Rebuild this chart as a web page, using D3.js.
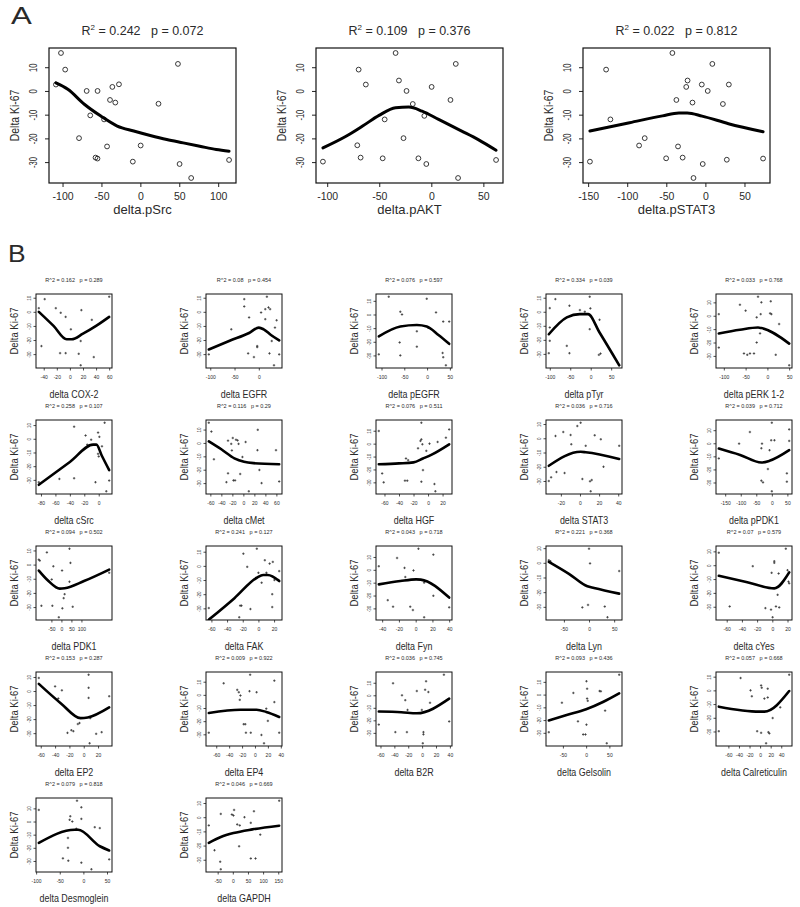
<!DOCTYPE html>
<html><head><meta charset="utf-8">
<script src="https://cdn.jsdelivr.net/npm/d3@7"></script>
<style>
body{margin:0;background:#fff}
svg{display:block}
text{font-family:"Liberation Sans",Arial,sans-serif;fill:#2a2a2a;white-space:pre}
</style>
</head><body>
<svg id="chart" width="800" height="907"></svg>
<script>
// ---------------- DATA ----------------
const yTickValues = [10, 0, -10, -20, -30];

// Panel A
const aLabels = ["delta.pSrc", "delta.pAKT", "delta.pSTAT3"];
const aR2 = ["0.242", "0.109", "0.022"];
const aP = ["0.072", "0.376", "0.812"];
const aXTicks = [[-100, -50, 0, 50, 100], [-100, -50, 0, 50], [-150, -100, -50, 0, 50]];

const ptsA_pSrc = [[-102,16],[-96.6,9],[-108.5,2.7],[-69,0],[-55,0],[-36,1.7],[-27.5,2.8],[-39,-3.8],[-32.2,-4.9],[-64.4,-10.3],[-46.6,-12],[-78.8,-19.9],[-42.8,-23.4],[-57.6,-28.1],[-55.1,-28.5],[-9.7,-29.8],[0.4,-23],[23.3,-5.4],[48.3,11.4],[50.4,-30.8],[65.3,-36.7],[114,-29.1]];
const fitA_pSrc = [[-108.5,3.4],[-93.2,0.7],[-72,-5.6],[-50.8,-10.6],[-29.7,-14.8],[-8.5,-16.9],[12.7,-18.8],[33.9,-20.5],[55.1,-21.9],[76.3,-23.3],[97.5,-24.7],[114,-25.4]];

const ptsA_pAKT = [[-34.3,16],[23.5,11.4],[-69.8,9],[-31.1,4.4],[-62.9,2.7],[-23.8,0],[0.3,1.7],[18.4,-3.8],[-17.8,-5.5],[-6.7,-10.5],[-44.8,-12],[-26.7,-19.9],[-71.1,-22.9],[-67.9,-28.1],[-46.7,-28.4],[-12.4,-28.4],[-4.8,-30.8],[-104.1,-29.8],[25.7,-36.7],[62.2,-29.1]];
const fitA_pAKT = [[-104.1,-24],[-81.9,-19.1],[-66,-14.8],[-50.2,-10.3],[-34.3,-7.1],[-21.6,-6.8],[-8.9,-8.5],[7,-12],[29.2,-16.9],[45.1,-20.5],[62.2,-25]];

const ptsA_pSTAT3 = [[-42.2,16],[8.9,11.4],[-127,9],[-22.8,4.4],[-24.5,1.7],[-4.6,2.7],[30,2.7],[3,0],[-37.1,-3.8],[-16.5,-4.9],[22.4,-5.5],[-121.5,-12],[-77.6,-19.9],[-84.8,-23],[-35,-23.4],[-50.2,-28.4],[-29.1,-28.1],[27.4,-29],[-3.4,-30.8],[-147.7,-29.8],[-15.2,-36.7],[73.8,-28.5]];
const fitA_pSTAT3 = [[-147.7,-16.9],[-97,-13.4],[-54.9,-10.5],[-33.8,-9.3],[-23.2,-9.3],[-4.2,-10.6],[29.5,-13.8],[73.8,-17.2]];

// Panel B
const bLabels = ["delta COX-2","delta EGFR","delta pEGFR","delta pTyr","delta pERK 1-2",
  "delta cSrc","delta cMet","delta HGF","delta STAT3","delta pPDK1",
  "delta PDK1","delta FAK","delta Fyn","delta Lyn","delta cYes",
  "delta EP2","delta EP4","delta B2R","delta Gelsolin","delta Calreticulin",
  "delta Desmoglein","delta GAPDH"];
const bR2 = ["0.162","0.08","0.076","0.334","0.033","0.258","0.116","0.076","0.036","0.039",
  "0.094","0.241","0.043","0.221","0.07","0.153","0.009","0.036","0.093","0.057","0.079","0.046"];
const bP = ["0.289","0.454","0.597","0.039","0.768","0.107","0.29","0.511","0.716","0.712",
  "0.502","0.127","0.718","0.368","0.579","0.287","0.922","0.745","0.436","0.668","0.818","0.669"];
const bXTicks = [[-40,-20,0,20,40,60],[-100,-50,0,50],[-100,-50,0,50],[-100,-50,0,50],[-100,-50,0,50],
  [-80,-60,-40,-20,0],[-60,-40,-20,0,20,40,60],[-60,-40,-20,0,20],[-20,0,20,40],[-150,-100,-50,0,50],
  [-50,0,50,100],[-60,-40,-20,0,20],[-40,-20,0,20,40],[-50,0,50],[-60,-40,-20,0,20],
  [-60,-40,-20,0,20],[-60,-40,-20,0,20,40],[-60,-40,-20,0,20,40],[-50,0,50],[-60,-40,-20,0,20,40],
  [-100,-50,0,50],[-50,0,50,100,150]];

const ptsCOX2 = [[-38.5,9],[-47.5,2.6],[-21.5,2.6],[-14,-0.7],[-6.5,-3.6],[17.5,1.2],[1.5,-12.4],[33.5,-5.7],[60,10.7],[-43.5,-24.3],[-15,-29.3],[-6.5,-29.3],[13.5,-29.8],[16.5,-20.7],[36.5,-32.1],[16.5,-37.9]];
const fitCOX2 = [[-47.5,0],[-25,-10],[-5,-19.5],[2.5,-19.5],[20,-15.5],[40,-10],[60,-3.6]];
const ptsEGFR = [[-103,-30.2],[-56.7,-12.4],[-30,9],[-30,3.8],[-20,-4],[16.7,10.7],[4.7,-0.5],[13.3,1.9],[20,3.1],[23.3,1.9],[13.3,-5.2],[36.7,-6],[33.3,-11.2],[26.7,-20.7],[-3.3,-24.3],[-3.3,-25],[-22,-29.5],[-10,-32.1],[22,-29.5],[42,-30.2],[31.3,-37.9]];
const fitEGFR = [[-103,-26.7],[-60,-20.5],[-20,-15],[0,-11.2],[10,-12.4],[25,-16.4],[42,-20.2]];
const ptsPEGFR = [[-84.1,13],[-58.7,2],[-55,0],[-60.2,-20.5],[-58.7,-30],[-105.9,-29.2],[-0.7,11.5],[19.6,1.5],[-22.4,-12.3],[-22.4,-23.6],[35.4,-5.2],[48.5,-5.2],[34.1,-28.2],[35.4,-31.3],[41.3,-37.2],[2.8,-9.8]];
const fitPEGFR = [[-105.9,-16],[-58.7,-8.8],[-22.4,-7.7],[-0.7,-8.8],[25,-15],[48.5,-21.5]];
const ptsPTyr = [[-86.4,9],[-100,2.6],[-100,-11.2],[-100,-20.7],[-102.4,-29.5],[-52,4.3],[-26.4,1.2],[-14.4,0],[-2.4,10.7],[-0.8,2.4],[-2.4,-12.4],[21.6,-5.7],[20,-30.7],[24,-29.8],[-58.4,-24.3],[-52,-29.5],[69.6,-38.1]];
const fitPTyr = [[-102.4,-16],[-58.4,-4],[-26.4,-1.7],[-6.4,-1.7],[21.6,-14.8],[69.6,-38.1]];
const ptsPERK = [[-111.5,1.2],[-111.5,-23.8],[-63,8.2],[-50,3.8],[-21.5,14.2],[-13.8,10],[-24.6,-1.2],[-15.4,1.2],[-16.9,-13.2],[-24.6,-20],[7.7,10.8],[6.2,1.8],[9.2,1.2],[26.9,-6.2],[-53.8,-28.2],[-46.2,-29.2],[-40,-28.2],[-30.8,-28.2],[19.2,-29.2],[50,-37]];
const fitPERK = [[-111.5,-13.2],[-63,-10.5],[-21.5,-8.8],[-13.8,-9.2],[50,-20.8]];
const ptsCSrc = [[-54.5,-29.3],[-34.1,8.8],[-34.1,-28.8],[-18.2,2.4],[-10.5,-0.7],[-15.9,-4.3],[-4.5,-31.7],[-0.9,4.5],[0.9,1.4],[4.5,-5.5],[-0.9,-11],[0,-12.9],[8.2,11.7],[14.5,-30.5],[10.5,-38.3],[-83,-31.7]];
const fitCSrc = [[-83,-33.6],[-40,-17],[-7.7,-4.3],[-3.2,-4.3],[4.5,-12.6],[14.5,-22.9]];
const ptsCMet = [[-62.8,15.1],[-58.1,8.5],[-53.5,-12.2],[-27.9,1.7],[-19.2,3.7],[-22.1,-0.7],[-20.9,-5.6],[-13.4,2.4],[-10.5,1.9],[-8.7,-0.7],[4.1,0.7],[-1.7,-10.5],[-27.9,-22.7],[-30.8,-29.3],[-18,-28],[-15.1,-28],[-5.8,-23.2],[9.9,-36.1],[26.2,9.8],[25.6,-5.4],[29.1,-20.2],[33.1,-30],[59.3,-5.4],[65.1,-28.8]];
const fitCMet = [[-62.8,1.2],[-39.5,-4.9],[-16.3,-11.5],[1.2,-14.1],[18.6,-15.1],[65.1,-15.9]];
const ptsHGF = [[-67.8,9.8],[-63.2,-23.1],[-61.1,-30],[-30.4,-11.5],[-27.4,-12.8],[-31.8,-28.7],[-28.6,-28.7],[-9.2,16.2],[-13.8,-3.6],[-10.5,2.1],[-9.2,3.3],[-7.8,-0.5],[2,0],[-2.4,-5.6],[13.2,1.3],[24.6,4.6],[29.1,11],[-7,-20.5],[-9.2,-29.5],[8.8,-31.3],[10.1,-36.9]];
const fitHGF = [[-67.8,-16],[-40,-15.3],[-20,-14.5],[-7,-11.5],[5,-8.5],[29.1,-0.5]];
const ptsSTAT3 = [[-32.6,-30],[-25.6,1.6],[-24.6,-23.7],[-17.5,4.4],[-16.1,-24.4],[-9.8,2.3],[-9.1,-4.2],[-2.8,8.6],[0.7,10.9],[2.5,-28.6],[6,-5.3],[10.5,-30.2],[12.3,-29.3],[11.2,-37.2],[15.4,2.1],[21.8,-0.7],[24.6,-20],[41,-5.3],[-30.2,-27.4]];
const fitSTAT3 = [[-32.6,-19.3],[0.7,-9.5],[6,-9.8],[41,-14.5]];
const ptsPPDK1 = [[-170.5,-11.6],[-105.3,-0.3],[-70.5,8.6],[-31.6,-0.3],[-33.7,-3.8],[-12.6,-19.7],[-33.7,-28.6],[-28.4,-29.9],[0,15.7],[-7.4,-5.3],[-2.1,2.3],[8.4,2.3],[0,-36.7],[55.8,10.6],[55.8,1.8],[48.4,-23],[48.4,-29.4]];
const fitPPDK1 = [[-170.5,-4],[-102,-8.9],[-33.7,-14.7],[-7.4,-13.4],[55.8,-5.3]];
const ptsPDK1 = [[-112.9,3.5],[-108,2.8],[-72.6,8.6],[-40.3,-1.2],[-48.4,-10.5],[-100,-29.1],[-45.2,-29.1],[3.2,-4.2],[4.8,-30.9],[11.3,-23.7],[16.1,-20.9],[40.3,11.2],[45.2,1.2],[40.3,-12.1],[56.5,-29.8],[-12.9,-37.2],[238.7,-5.8]];
const fitPDK1 = [[-112.9,-4.2],[-64.5,-11.6],[-8.1,-17],[16.1,-16.7],[112.9,-11.6],[238.7,-3.5]];
const ptsFAK = [[-63.3,-29.8],[-23.3,-28.1],[-21.6,-28.1],[-24.5,-36.3],[-10.2,-30.5],[-19.2,8.6],[-14.3,-0.7],[-2,12.1],[0,-4.9],[10.2,-4.9],[4.1,-11.9],[8.2,4],[14.3,1.6],[18.4,2.8],[26.5,-3.7],[17.6,-20],[17.6,-29.1],[20.4,-10],[25.7,-10]];
const fitFAK = [[-63.3,-38],[-30.6,-22.8],[-2,-8.4],[6.1,-6.5],[12,-6.5],[26.5,-10.7]];
const ptsFyn = [[-44,2.8],[-33.3,-23.6],[-27,-28.7],[-22.2,9.2],[-13.3,1.5],[-12.4,-5.6],[-2.6,-0.5],[-6.5,-28.7],[-3.3,-31.3],[3.3,16.4],[10.1,-10],[21.1,11.8],[21.1,-20.2],[10.1,-36.9],[40,-29.2]];
const fitFyn = [[-44,-11.3],[-18.3,-8.7],[0.6,-7.4],[6,-7.6],[40,-21.6]];
const ptsLyn = [[-80,1.8],[-76.7,1.1],[0,9.6],[2,-0.4],[-13.3,-30.4],[-2,-28.7],[31.3,-29.8],[36.7,-37.1],[60,-5.6]];
const fitLyn = [[-80,0.7],[-40,-7.5],[-3.3,-16],[10,-17.1],[60,-21]];
const ptsCYes = [[-70.4,9],[-56.1,-29.8],[-25.7,-0.7],[-9.1,-31],[-1.7,-32.1],[0.4,-37.6],[2.6,2.9],[2.6,1.7],[-0.9,-5.5],[8.3,-6],[7,-21.4],[4.8,-29.8],[9.1,-30.5],[17.8,11.9],[20,-3.6],[21.3,-11.9],[22.2,-13.1]];
const fitCYes = [[-70.4,-7.6],[-34.3,-12.1],[2.6,-16.7],[22.2,-5.2]];
const ptsEP2 = [[-62.7,9.3],[-40,3.3],[-30.5,0.5],[-35.5,-5.3],[-22.7,-29.8],[-17.3,-27.9],[-14.5,-28.6],[-8.2,-23.5],[-5.9,-22.8],[6.8,11.6],[6.8,2.3],[6.8,-4.9],[9.1,-19.3],[8.2,-37.2],[17.3,-30.5],[25,-29.3],[35.5,-3.7]];
const fitEP2 = [[-62.7,5.1],[-31.8,-8.8],[-4.5,-19.3],[5.5,-18.8],[35.5,-11.6]];
const ptsEP4 = [[-71.5,-28.8],[-48.5,8.8],[-27.5,3.8],[-25,2],[-22.5,-0.5],[-23.5,-3.8],[-17.5,-22.3],[-15,-22.3],[-14,-28.8],[-6.5,-28.8],[-7.5,15.3],[-8.5,2.8],[2.5,2],[10,-30.5],[14,-36.8],[17.5,-10.5],[20,-19.8],[30,10.8],[30,-5.5],[37.5,-28.8]];
const fitEP4 = [[-71.5,-13.8],[-22.5,-11.3],[2.5,-11.3],[17.5,-13],[37.5,-16.8]];
const ptsB2R = [[-62.4,-23.4],[-41.9,9.6],[-38.6,-29.4],[-29,0],[-24.3,-3.9],[-21.9,-29.4],[-21,-11.7],[-7.6,3.4],[1.9,-29.4],[1.9,-31.2],[1,-38.3],[-0.4,-11.7],[5.7,11.2],[4.3,4.4],[9,2.6],[11.4,-6],[31.4,16.4],[39,-20.9]];
const fitB2R = [[-62.4,-13],[-30,-13.5],[-7.6,-14.4],[39,-2.7]];
const ptsGelsolin = [[-80.3,-29.5],[-52.1,-6.4],[-27.5,1.3],[-17.6,-21],[0.7,10.5],[2.1,4.6],[2.1,-3.1],[3.5,-4.9],[0.7,-23.6],[-6.3,-31.3],[-1.4,-31.3],[28.9,2.8],[31.7,2.6],[40.8,-12.6],[44.4,-38.2],[71.1,15.6]];
const fitGelsolin = [[-80.3,-20.3],[-40.1,-15.9],[0,-11.5],[37.3,-5.6],[71.1,1]];
const ptsCalret = [[-78.1,-29.8],[-36.9,9],[-18.1,0],[-15.6,-4.3],[-5.6,-29.8],[1.9,-31],[1.9,3.6],[3.1,1.9],[8.1,-6],[14.4,1.2],[14.4,-5.2],[15.6,-30.5],[17.5,-31.4],[11.3,-38.6],[23.8,-20.2],[38.1,-12.4],[55,11.4]];
const fitCalret = [[-78.1,-11.9],[-1.3,-15.5],[8.1,-15.5],[55,-0.5]];
const ptsDesmo = [[-94.3,8.8],[-43.3,-28],[-32.6,-12.5],[-32.6,-20],[-29.1,1.3],[-27.7,4],[-23.4,0],[-31.9,-29.8],[-14.9,-5.5],[-13.5,15.8],[-4.3,10.8],[-4.3,2],[-4.3,-31.3],[17,-36.3],[24.1,-4.3],[34.8,-5],[54.6,-28.8]];
const fitDesmo = [[-94.3,-16.3],[-18.4,-6.3],[-11.3,-6.3],[34.8,-18.8],[54.6,-22]];
const ptsGAPDH = [[-79.2,-5.8],[-60.4,-23.3],[-41.7,-31.4],[-39.6,-36.7],[-39.6,2.3],[-3.1,1.9],[2.1,1.2],[4.2,5.1],[14.6,-5.1],[22.9,-5.8],[20.8,-20.5],[38.5,0],[59.4,-4],[59.4,-29.1],[75,-29.1],[69.8,4.2],[90.6,-12.3],[153.1,11.6]];
const fitGAPDH = [[-79.2,-18.1],[-39.6,-14],[2.1,-11.2],[64.6,-8.6],[153.1,-6]];

const aPoints = [ptsA_pSrc, ptsA_pAKT, ptsA_pSTAT3];
const aFits = [fitA_pSrc, fitA_pAKT, fitA_pSTAT3];
const bPoints = [ptsCOX2, ptsEGFR, ptsPEGFR, ptsPTyr, ptsPERK, ptsCSrc, ptsCMet, ptsHGF, ptsSTAT3, ptsPPDK1,
  ptsPDK1, ptsFAK, ptsFyn, ptsLyn, ptsCYes, ptsEP2, ptsEP4, ptsB2R, ptsGelsolin, ptsCalret, ptsDesmo, ptsGAPDH];
const bFits = [fitCOX2, fitEGFR, fitPEGFR, fitPTyr, fitPERK, fitCSrc, fitCMet, fitHGF, fitSTAT3, fitPPDK1,
  fitPDK1, fitFAK, fitFyn, fitLyn, fitCYes, fitEP2, fitEP4, fitB2R, fitGelsolin, fitCalret, fitDesmo, fitGAPDH];

// ---------------- DRAWING ----------------
const svg = d3.select("#chart");
svg.append("rect").attr("width", 800).attr("height", 907).attr("fill", "#fff");

function padExt(e) { const r = e[1] - e[0]; return [e[0] - 0.04 * r, e[1] + 0.04 * r]; }
let clipId = 0;

function drawPlot(L, pts, fit, xticks, titleFn, xlabel, s) {
  const x = d3.scaleLinear().domain(padExt(d3.extent(pts, d => d[0]))).range([L.x, L.x + L.w]);
  const y = d3.scaleLinear().domain(padExt(d3.extent(pts, d => d[1]))).range([L.y + L.h, L.y]);
  const inX = v => v >= x.domain()[0] && v <= x.domain()[1];
  const inY = v => v >= y.domain()[0] && v <= y.domain()[1];
  const g = svg.append("g");

  // x axis
  const xa = g.append("g").attr("transform", `translate(0,${L.y + L.h})`)
    .call(d3.axisBottom(x).tickValues(xticks.filter(inX)).tickSize(s.tick).tickPadding(s.xPad).tickFormat(d => String(d)));
  xa.select(".domain").remove();
  xa.selectAll("line").attr("stroke", "#222").attr("stroke-width", s.tickW);
  xa.selectAll("text").attr("font-size", s.tickFont).attr("font-family", null).attr("fill", "#333");

  // y axis
  const ya = g.append("g").attr("transform", `translate(${L.x},0)`)
    .call(d3.axisLeft(y).tickValues(yTickValues.filter(inY)).tickSize(s.tick).tickFormat(d => String(d)));
  ya.select(".domain").remove();
  ya.selectAll("line").attr("stroke", "#222").attr("stroke-width", s.tickW);
  ya.selectAll("text").attr("font-size", s.tickFont).attr("font-family", null).attr("fill", "#333")
    .attr("x", null).attr("dy", null).attr("text-anchor", "middle")
    .attr("transform", `translate(${-s.yTickOff},0) rotate(-90) scale(${s.ySq},1)`);

  // box
  g.append("rect").attr("x", L.x).attr("y", L.y).attr("width", L.w).attr("height", L.h)
    .attr("fill", "none").attr("stroke", "#111").attr("stroke-width", s.boxW);

  // points
  if (s.pointType === "circle") {
    g.append("g").selectAll("circle").data(pts).join("circle")
      .attr("cx", d => x(d[0])).attr("cy", d => y(d[1])).attr("r", s.ptR)
      .attr("fill", "none").attr("stroke", "#222").attr("stroke-width", s.ptW);
  } else {
    const r = s.ptR;
    g.append("g").selectAll("path").data(pts).join("path")
      .attr("d", d => `M${x(d[0]) - r},${y(d[1])}H${x(d[0]) + r}M${x(d[0])},${y(d[1]) - r}V${y(d[1]) + r}`)
      .attr("stroke", "#333").attr("stroke-width", s.ptW).attr("fill", "none");
  }

  // fit line
  const cid = "clip" + (clipId++);
  svg.append("clipPath").attr("id", cid).append("rect")
    .attr("x", L.x).attr("y", L.y).attr("width", L.w).attr("height", L.h);
  g.append("path").datum(fit)
    .attr("clip-path", `url(#${cid})`)
    .attr("d", d3.line().x(d => x(d[0])).y(d => y(d[1])).curve(d3.curveMonotoneX))
    .attr("fill", "none").attr("stroke", "#000").attr("stroke-width", s.lineW)
    .attr("stroke-linejoin", "round").attr("stroke-linecap", "round");

  // title
  const t = g.append("text").attr("x", L.x + L.w / 2).attr("y", L.y - s.titleOff)
    .attr("text-anchor", "middle").attr("font-size", s.titleFont);
  titleFn(t);

  // x label
  g.append("text").attr("text-anchor", "middle").attr("font-size", s.xLabFont)
    .attr("transform", `translate(${L.x + L.w / 2},${L.y + L.h + s.xLabOff}) scale(${s.xLabSx},1)`)
    .text(xlabel);

  // y label
  g.append("text").attr("text-anchor", "middle").attr("font-size", s.yLabFont).attr("dy", "0.35em")
    .attr("transform", `translate(${L.x - s.yLabOff},${L.y + L.h / 2}) rotate(-90) scale(${s.yLabSq},1)`)
    .text("Delta Ki-67");
}

const styleA = { tick: 4, tickW: 1, xPad: 6, tickFont: 10.5, yTickOff: 12, ySq: 0.72, boxW: 1.2,
  pointType: "circle", ptR: 2.4, ptW: 0.9, lineW: 3, titleOff: 13, titleFont: 12.5,
  xLabOff: 31, xLabFont: 13, xLabSx: 1, yLabOff: 35, yLabFont: 13, yLabSq: 0.8 };
const styleB = { tick: 2.5, tickW: 0.8, xPad: 5, tickFont: 5, yTickOff: 5, ySq: 0.9, boxW: 1,
  pointType: "plus", ptR: 1.2, ptW: 0.8, lineW: 2.6, titleOff: 12, titleFont: 5.5,
  xLabOff: 30, xLabFont: 10.5, xLabSx: 0.85, yLabOff: 22, yLabFont: 10, yLabSq: 0.95 };

// Panel letters
svg.append("text").attr("font-size", 24).attr("transform", "translate(11,24) scale(1.3,1)").text("A");
svg.append("text").attr("font-size", 24).attr("transform", "translate(8,262) scale(1.1,1)").text("B");

// Panel A
aLabels.forEach((lab, i) => {
  const L = { x: 49 + 267 * i, y: 48, w: 187, h: 135 };
  drawPlot(L, aPoints[i], aFits[i], aXTicks[i], t => {
    t.append("tspan").text("R");
    t.append("tspan").attr("font-size", 8).attr("dy", -5).text("2");
    t.append("tspan").attr("dy", 5).text(" = " + aR2[i] + "   p = " + aP[i]);
  }, lab, styleA);
});

// Panel B
bLabels.forEach((lab, i) => {
  const c = i % 5, r = Math.floor(i / 5);
  const L = { x: 36 + 170 * c, y: 294 + 126 * r, w: 76, h: 74 };
  drawPlot(L, bPoints[i], bFits[i], bXTicks[i], t => {
    t.text("R^2 = " + bR2[i] + "   p = " + bP[i]);
  }, lab, styleB);
});
</script>
</body></html>
